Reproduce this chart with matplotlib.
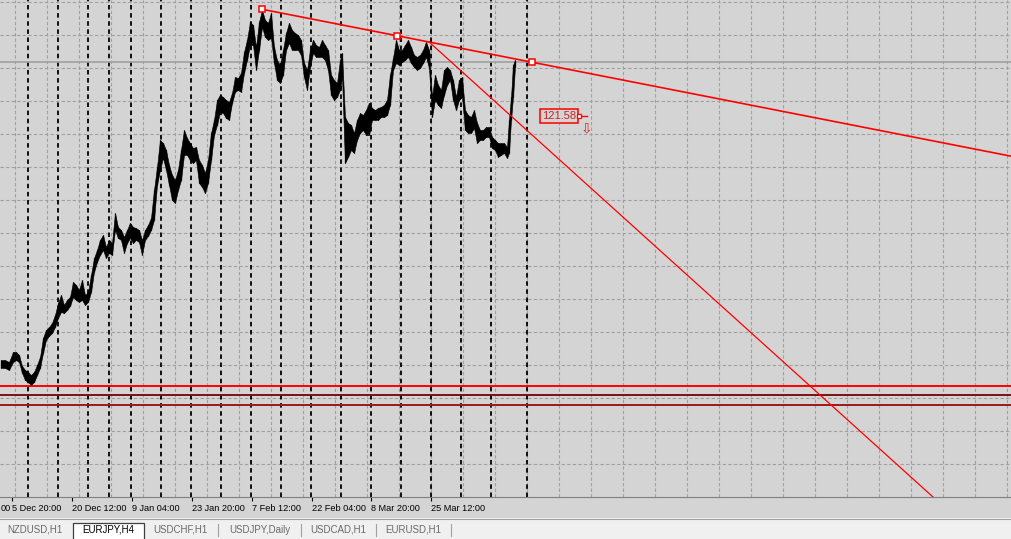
import numpy as np
import matplotlib.pyplot as plt
from matplotlib.patches import Rectangle

# EURJPY H4 price bars (bar number, high, low)
bars = [1, 5, 9, 13, 16, 19, 22, 25, 28, 31, 34, 37, 40, 43, 46, 49, 52, 55, 58, 61,
        64, 67, 70, 73, 76, 79, 82, 85, 88, 91, 94, 97, 100, 103, 106, 109, 112, 115, 118, 121,
        124, 127, 130, 133, 136, 139, 142, 145, 148, 151, 154, 157, 160, 163, 166, 169, 172, 175, 178, 181,
        184, 187, 190, 193, 196, 199, 202, 205, 208, 211, 214, 217, 220, 223, 226, 229, 232, 235, 238, 241,
        244, 247, 250, 253, 256, 259, 262, 265, 268, 271, 274, 277, 280, 283, 286, 289, 292, 295, 298, 301,
        304, 307, 310, 313, 316, 319, 322, 325, 328, 331, 334, 337, 340, 342, 345, 348, 351, 354, 357, 360,
        363, 366, 369, 372, 375, 378, 381, 384, 387, 390, 393, 396, 399, 402, 405, 408, 411, 414, 417, 420,
        423, 426, 429, 432, 435, 438, 441, 444, 447, 450, 453, 456, 459, 462, 465, 468, 471, 474, 477, 480,
        483, 486, 489, 492, 495, 498, 501, 504, 507, 509, 511, 513, 515]
highs = [106.80, 106.80, 106.68, 107.29, 107.29, 107.11, 106.44, 106.20, 106.08, 105.89,
         106.08, 106.50, 106.98, 108.14, 108.62, 108.80, 109.05, 109.53, 110.26, 110.74,
         110.14, 110.44, 110.62, 111.53, 111.35, 111.05, 111.65, 110.74, 110.92, 111.95,
         112.98, 113.47, 114.08, 114.38, 113.65, 114.08, 113.89, 115.71, 114.86, 114.68,
         114.26, 114.68, 115.11, 114.86, 114.80, 114.68, 114.08, 114.68, 114.98, 115.41,
         117.11, 118.50, 120.14, 119.95, 119.53, 118.62, 118.02, 117.71, 118.32, 119.53,
         120.74, 120.26, 119.95, 119.65, 119.71, 118.92, 118.62, 118.14, 118.92, 120.56,
         121.35, 122.56, 122.86, 122.74, 122.56, 122.44, 122.98, 123.95, 123.89, 124.20,
         125.47, 126.20, 127.29, 127.11, 125.77, 127.29, 128.02, 127.41, 127.23, 127.83,
         125.77, 124.98, 124.68, 125.59, 126.62, 127.23, 126.80, 126.62, 126.50, 126.20,
         124.80, 124.38, 125.59, 126.20, 125.89, 125.77, 126.20, 125.89, 125.59, 124.08,
         123.77, 123.59, 124.98, 125.41, 121.53, 121.17, 121.05, 120.56, 121.35, 121.77,
         121.65, 121.95, 122.38, 122.08, 121.95, 122.08, 122.14, 122.26, 122.56, 124.08,
         125.11, 126.20, 125.59, 125.59, 125.89, 126.20, 125.77, 125.29, 125.17, 125.29,
         125.59, 126.08, 125.59, 122.74, 124.08, 123.47, 123.17, 124.38, 124.56, 124.38,
         123.77, 122.74, 123.77, 123.95, 121.95, 121.65, 121.53, 121.95, 121.17, 120.74,
         120.74, 120.92, 120.92, 120.32, 120.14, 119.95, 119.95, 119.95, 119.71, 121.35,
         122.74, 124.68, 124.98]
lows = [106.32, 106.32, 106.20, 106.68, 106.80, 106.68, 106.02, 105.59, 105.47, 105.29,
        105.47, 105.89, 106.32, 107.23, 108.02, 108.26, 108.44, 108.80, 109.35, 109.71,
        109.65, 109.83, 110.08, 110.62, 110.44, 110.32, 110.44, 110.14, 110.32, 110.92,
        112.14, 112.74, 113.17, 113.47, 112.98, 113.29, 113.17, 114.68, 114.20, 114.08,
        113.29, 113.89, 114.20, 113.89, 114.08, 113.95, 113.17, 114.08, 114.32, 114.68,
        115.29, 117.41, 118.32, 119.05, 118.32, 117.41, 116.50, 116.32, 117.11, 117.71,
        119.23, 119.23, 118.92, 118.74, 118.92, 117.53, 117.29, 116.92, 117.53, 118.92,
        120.44, 121.05, 121.83, 121.77, 121.47, 121.35, 122.38, 123.05, 123.17, 123.05,
        124.20, 124.98, 125.89, 125.89, 124.38, 125.59, 126.98, 126.38, 126.20, 126.32,
        124.80, 123.77, 123.59, 124.08, 125.59, 126.02, 125.59, 125.59, 125.59, 125.29,
        123.95, 123.17, 124.56, 125.41, 125.17, 125.17, 125.17, 124.98, 124.38, 122.86,
        122.56, 122.74, 123.17, 123.95, 118.74, 119.11, 119.53, 119.35, 120.14, 120.56,
        120.74, 120.44, 120.44, 121.35, 121.35, 121.35, 121.53, 121.53, 121.65, 122.26,
        124.38, 124.80, 124.68, 124.86, 124.98, 125.17, 124.80, 124.56, 124.38, 124.50,
        124.80, 125.17, 124.50, 121.53, 122.56, 122.26, 122.08, 122.86, 123.47, 123.77,
        122.56, 121.95, 122.56, 122.74, 120.74, 120.56, 120.56, 120.86, 119.95, 120.14,
        120.14, 120.32, 120.32, 119.65, 119.53, 119.11, 119.23, 119.35, 119.05, 119.35,
        121.35, 122.74, 124.56]

bid_price = 124.86
levels = [105.23, 104.68, 104.08]
level_colors = ['#ff0000', '#7a1010', '#a01818']

trend1_bars = [262, 532]
trend1_prices = [128.06, 124.85]
trend2_bars = [429, 933]
trend2_prices = [126.08, 98.5]

label_bar = 587
label_price = 121.58
arrow_price = 120.86

week_starts = [28, 58, 88, 109, 131, 161, 191, 221, 251, 281, 311, 341, 371, 401, 431,
               461, 491, 527]
tick_bars = [12, 72, 132, 192, 252, 312, 371, 431]
tick_labels = ['5 Dec 20:00', '20 Dec 12:00', '9 Jan 04:00', '23 Jan 20:00',
               '7 Feb 12:00', '22 Feb 04:00', '8 Mar 20:00', '25 Mar 12:00']
# tail of the label that scrolled off the left edge
cut_label = '00'

tabs = ['NZDUSD,H1', 'EURJPY,H4', 'USDCHF,H1', 'USDJPY,Daily', 'USDCAD,H1', 'EURUSD,H1']
tab_x = [7, 82, 153, 229, 310, 385]
active_tab = 1

bg = '#d4d4d4'
fig = plt.figure(figsize=(10.11, 5.39), dpi=100)
fig.patch.set_facecolor(bg)

ax = fig.add_axes([0, 42 / 539, 1, 497 / 539])
ax.set_facecolor(bg)
ax.set_xlim(0, 1011)
ax.set_ylim(98.5, 128.62)

# grid
for p in np.arange(128.5, 98.5, -2.0):
    ax.axhline(p, color='#a0a0a0', lw=0.8, ls=(0, (3, 2)), zorder=1)
for b in range(15, 1011, 32):
    ax.axvline(b, color='#a0a0a0', lw=0.8, ls=(0, (3, 2)), zorder=1)
# period separators
for b in week_starts:
    ax.axvline(b, color='black', lw=1.3, ls=(0, (2.5, 2)), zorder=2)

ax.axhline(bid_price, color='#a0a0a0', lw=1.2, zorder=2)
for p, c in zip(levels, level_colors):
    ax.axhline(p, color=c, lw=1.4, zorder=3)

# price bars
ax.fill_between(bars, lows, highs, color='black', lw=0.4, zorder=4)
ax.vlines(bars, lows, highs, color='black', lw=0.9, zorder=4)

# trend lines, extended as rays
def ray(bx, py, x_end):
    slope = (py[1] - py[0]) / (bx[1] - bx[0])
    return [bx[0], x_end], [py[0], py[0] + slope * (x_end - bx[0])]

rx, ry = ray(trend1_bars, trend1_prices, 1100)
ax.plot(rx, ry, color='red', lw=1.2, zorder=5)
rx, ry = ray(trend2_bars, trend2_prices, 1100)
ax.plot(rx, ry, color='red', lw=0.9, zorder=5)
mid_bar = (trend1_bars[0] + trend1_bars[1]) / 2
mid_price = (trend1_prices[0] + trend1_prices[1]) / 2
ax.plot(trend1_bars + [mid_bar], trend1_prices + [mid_price], ls='none', marker='s',
        ms=5, mfc='white', mec='red', mew=1.1, zorder=6)

# price label with its arrow
ax.text(label_bar - 45, label_price, f'{label_price:.2f}', color='#d02020', fontsize=8,
        family='Liberation Sans', va='center', ha='left', zorder=7,
        bbox=dict(boxstyle='square,pad=0.15', fc=bg, ec='red', lw=1.1))
ax.plot([label_bar - 9, label_bar], [label_price, label_price], color='red', lw=1, zorder=7)
ax.plot([label_bar - 8], [label_price], ls='none', marker='s', ms=3.5, mfc='white',
        mec='red', mew=0.9, zorder=8)
ax.text(label_bar - 1, arrow_price, '\u21e9', color='#e02020', fontsize=10,
        ha='center', va='center', zorder=7)

# time axis
ax.set_yticks([])
ax.set_xticks(tick_bars)
ax.set_xticklabels(tick_labels, ha='left', fontsize=6.6, family='Liberation Sans')
ax.tick_params(axis='x', direction='out', length=3, width=0.8, pad=2, color='black')
ax.text(0.5, -0.0145, cut_label, transform=ax.get_xaxis_transform(),
        ha='left', va='top', fontsize=6.6, family='Liberation Sans', clip_on=False)
for s in ['top', 'left', 'right']:
    ax.spines[s].set_visible(False)
ax.spines['bottom'].set_color('#808080')
ax.spines['bottom'].set_linewidth(0.8)

# chart tabs along the bottom
tx = fig.add_axes([0, 0, 1, 21 / 539])
tx.set_xlim(0, 1011)
tx.set_ylim(0, 21)
tx.axis('off')
tx.add_patch(Rectangle((0, 0), 1011, 21, fc='#f0f0f0', ec='none'))
tx.plot([0, 1011], [20.5, 20.5], color='#a0a0a0', lw=0.8)
tx.add_patch(Rectangle((73, -1), 71, 17, fc='white', ec='#404040', lw=0.9))
for i, (name, x0) in enumerate(zip(tabs, tab_x)):
    tx.text(x0, 9, name, fontsize=7, family='Liberation Sans', va='center', ha='left',
            color='black' if i == active_tab else '#6a6a6a')
for sx in [218, 301, 376, 451]:
    tx.plot([sx, sx], [3, 15], color='#a0a0a0', lw=0.8)

fig.savefig('out.png', dpi=100, facecolor=fig.get_facecolor())
